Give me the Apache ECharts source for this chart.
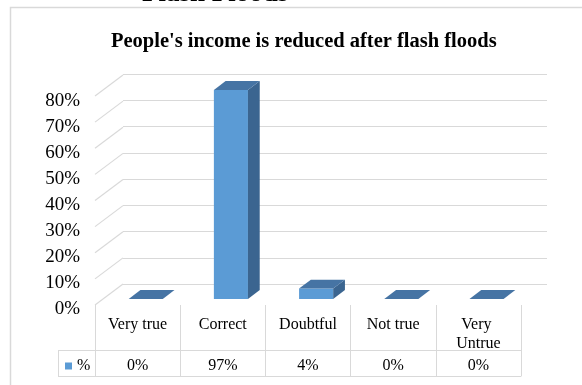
<!DOCTYPE html>
<html><head><meta charset="utf-8">
<script src="https://cdn.jsdelivr.net/npm/echarts@6/dist/echarts.min.js"></script>
<style>html,body{margin:0;padding:0;background:#fff}#c{width:582px;height:385px}</style>
</head><body><div id="c"></div>
<script>
const categories = ['Very true', 'Correct', 'Doubtful', 'Not true', 'Very Untrue'];
const values = [0, 0.97, 0.04, 0, 0];
const yTicks = [0, 0.1, 0.2, 0.3, 0.4, 0.5, 0.6, 0.7, 0.8];
const seriesName = '%';
const chartTitle = "People's income is reduced after flash floods";
const headingText = 'Flash Floods';

const FONT = '"Liberation Serif", "Times New Roman", serif';
const Y_MAX = yTicks[yTicks.length - 1];
const Y_INT = yTicks[1] - yTicks[0];
const DX = 28, DY = -21;            // depth vector (front -> back wall)
const D_FRONT = 0.29, D_BACK = 0.71; // bar depth range
const BAR_RATIO = 0.4;
const GRID_COLOR = '#d9d9d9';
const pct = v => Math.round(v * 100) + '%';

const chart = echarts.init(document.getElementById('c'), null, {renderer: 'canvas'});

function renderBar(params, api) {
  const idx = api.value(0);
  const v = Math.min(api.value(1), Y_MAX);
  const base = api.coord([idx, 0]);
  const top = api.coord([idx, v]);
  const bw = api.size([1, 0])[0];
  const w = bw * BAR_RATIO;
  const x0 = base[0] - w / 2 + D_FRONT * DX;
  const x1 = x0 + w;
  const yb = base[1] + D_FRONT * DY;
  const yt = top[1] + D_FRONT * DY;
  const ddx = (D_BACK - D_FRONT) * DX, ddy = (D_BACK - D_FRONT) * DY;
  const children = [];
  if (yb - yt > 0.3) {
    children.push({type: 'rect', shape: {x: x0, y: yt, width: w, height: yb - yt},
      style: {fill: '#5b9bd5'}});
    children.push({type: 'polygon', shape: {points: [[x1, yt], [x1 + ddx, yt + ddy], [x1 + ddx, yb + ddy], [x1, yb]]},
      style: {fill: '#3b6590'}});
  }
  children.push({type: 'polygon', shape: {points: [[x0, yt], [x1, yt], [x1 + ddx, yt + ddy], [x0 + ddx, yt + ddy]]},
    style: {fill: '#4674a4'}});
  return {type: 'group', children};
}

function renderWall(params, api) {
  const v = api.value(1);
  const c = api.coord([0, v]);
  const x = c[0] - api.size([1, 0])[0] / 2;
  return {type: 'line', shape: {x1: x, y1: c[1], x2: x + DX, y2: c[1] + DY},
    style: {stroke: GRID_COLOR, lineWidth: 1.2}};
}

const option = {
  animation: false,
  backgroundColor: '#fff',
  title: {
    text: chartTitle, left: 111, top: 31, padding: 0,
    textStyle: {fontSize: 20.5, fontWeight: 'bold', fontFamily: FONT, color: '#000'}
  },
  legend: {
    data: [seriesName], left: 65, top: 358, padding: 0, itemGap: 0,
    icon: 'rect', itemWidth: 7, itemHeight: 7,
    textStyle: {fontSize: 16, fontFamily: FONT, color: '#000'}
  },
  graphic: [
    {type: 'rect', shape: {x: 10.5, y: 7.5, width: 620, height: 420}, style: {fill: null, stroke: GRID_COLOR, lineWidth: 1.5}, z: -10},
    {type: 'text', x: 142, y: 8, style: {text: headingText, font: 'bold 27px ' + FONT, fill: '#000', verticalAlign: 'bottom'}},
    {type: 'line', shape: {x1: 58, y1: 350.5, x2: 95, y2: 350.5}, style: {stroke: GRID_COLOR, lineWidth: 1}},
    {type: 'line', shape: {x1: 58, y1: 376.5, x2: 95, y2: 376.5}, style: {stroke: GRID_COLOR, lineWidth: 1}},
    {type: 'line', shape: {x1: 58.5, y1: 350, x2: 58.5, y2: 377}, style: {stroke: GRID_COLOR, lineWidth: 1}}
  ],
  grid: [
    {left: 95, right: 61, top: 96, bottom: 80},
    {left: 95 + DX, right: 61 - DX + 2, top: 96 + DY - 1, bottom: 80 - DY},
    {left: 95, right: 61, top: 101, bottom: 76}
  ],
  xAxis: [
    {gridIndex: 0, type: 'category', data: categories, position: 'bottom',
      axisLine: {show: false},
      axisTick: {show: true, interval: 0, length: 45, lineStyle: {color: GRID_COLOR}},
      axisLabel: {interval: 0, fontSize: 16, fontFamily: FONT, color: '#000', margin: 10,
        width: 78, overflow: 'break', lineHeight: 19}},
    {gridIndex: 0, type: 'category', data: values.map(pct), position: 'bottom', offset: 45,
      axisLine: {show: true, lineStyle: {color: GRID_COLOR}},
      axisTick: {show: true, interval: 0, length: 26, lineStyle: {color: GRID_COLOR}},
      axisLabel: {interval: 0, fontSize: 16, fontFamily: FONT, color: '#000', margin: 8}},
    {gridIndex: 0, type: 'category', data: categories, position: 'bottom', offset: 71,
      axisLine: {show: true, lineStyle: {color: GRID_COLOR}},
      axisTick: {show: false}, axisLabel: {show: false}},
    {gridIndex: 1, type: 'category', data: categories, show: false},
    {gridIndex: 2, type: 'category', data: categories, show: false}
  ],
  yAxis: [
    {gridIndex: 0, type: 'value', min: 0, max: Y_MAX, interval: Y_INT, show: false},
    {gridIndex: 1, type: 'value', min: 0, max: Y_MAX, interval: Y_INT,
      axisLine: {show: false}, axisTick: {show: false}, axisLabel: {show: false},
      splitLine: {show: true, lineStyle: {color: GRID_COLOR, width: 1.2}}},
    {gridIndex: 2, type: 'value', min: 0, max: Y_MAX, interval: Y_INT,
      axisLine: {show: false}, axisTick: {show: false}, splitLine: {show: false},
      axisLabel: {formatter: pct, fontSize: 19, fontFamily: FONT, color: '#000', margin: 15}}
  ],
  series: [
    {name: 'wall', type: 'custom', xAxisIndex: 0, yAxisIndex: 0, silent: true, z: 1,
      renderItem: renderWall, data: yTicks.map(v => [0, v])},
    {name: seriesName, type: 'custom', xAxisIndex: 0, yAxisIndex: 0, z: 10,
      itemStyle: {color: '#5b9bd5'},
      renderItem: renderBar, data: values.map((v, i) => [i, v])}
  ]
};
chart.setOption(option);
</script>
</body></html>
